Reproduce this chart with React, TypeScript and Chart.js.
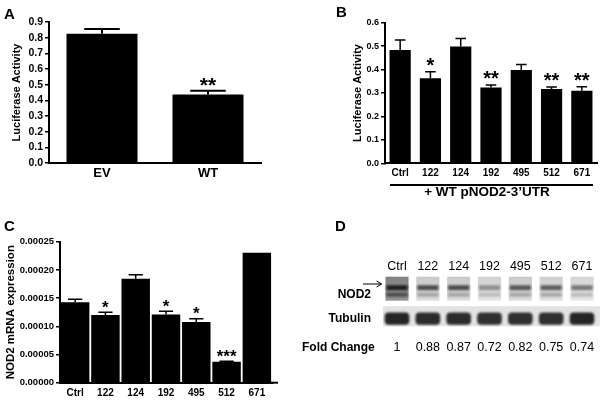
import React, { useEffect, useRef } from "react";
import { Chart, registerables } from "chart.js";
Chart.register(...registerables);

const FONT = "'Liberation Sans', Arial, Helvetica, sans-serif";

// ---- Panel A data ----
const catA = ["EV", "WT"];
const valA = [0.825, 0.438];
const semA = [0.03, 0.023];
const starA = ["", "**"];

// ---- Panel B data ----
const catB = ["Ctrl", "122", "124", "192", "495", "512", "671"];
const valB = [0.483, 0.363, 0.498, 0.323, 0.398, 0.317, 0.31];
const semB = [0.043, 0.028, 0.035, 0.011, 0.024, 0.009, 0.017];
const starB = ["", "*", "", "**", "", "**", "**"];

// ---- Panel C data ----
const catC = ["Ctrl", "122", "124", "192", "495", "512", "671"];
const valC = [0.0001425, 0.00012, 0.0001845, 0.000121, 0.0001075, 0.0000372, 0.0002305];
const semC = [0.0000055, 0.000005, 0.000007, 0.0000055, 0.000006, 0.0000008, 0];
const starC = ["", "*", "", "*", "*", "***", ""];

// ---- Panel D data ----
const laneD = ["Ctrl", "122", "124", "192", "495", "512", "671"];
const foldD = [1, 0.88, 0.87, 0.72, 0.82, 0.75, 0.74];
const nodBackD = [0.45, 0.17, 0.17, 0.14, 0.17, 0.15, 0.13];
const nodUpperD = [1.0, 0.8, 0.8, 0.5, 0.75, 0.72, 0.6];
const nodLowerD = [0.8, 0.4, 0.4, 0.3, 0.4, 0.4, 0.3];
const tubD = [0.95, 0.92, 0.92, 0.9, 0.9, 0.9, 0.95];

type Area = { left: number; top: number; right: number; bottom: number };
type BarPanel = {
  letter: string; letterX: number; letterY: number;
  cats: string[]; vals: number[]; sem: number[]; stars: string[];
  yMax: number; yStep: number; decimals: number;
  title: string; titleSize: number; titlePad: number; titleAlign: "center" | "start";
  area: Area; w: number; h: number;
  tickSize: number; xSize: number; xPad: number; barPct: number;
  starSize: number; starGap: number; errW: number;
  extra?: (chart: any) => void;
};

function shade(v: number) {
  const g = Math.round(255 * (1 - v));
  return `rgb(${g},${g},${g})`;
}

function makeBarChart(canvas: HTMLCanvasElement, p: BarPanel) {
  const plugin = {
    id: "extras" + p.letter,
    afterDatasetsDraw(chart: any) {
      const ctx = chart.ctx;
      const y = chart.scales.y;
      const meta = chart.getDatasetMeta(0);
      ctx.save();
      ctx.fillStyle = "#000";
      ctx.strokeStyle = "#000";
      meta.data.forEach((el: any, i: number) => {
        const v = p.vals[i];
        const base = y.getPixelForValue(v);
        const top = y.getPixelForValue(v + p.sem[i]);
        const w = el.width;
        if (p.sem[i] > 0) {
          ctx.lineWidth = p.errW;
          ctx.beginPath();
          ctx.moveTo(el.x, base);
          ctx.lineTo(el.x, top);
          ctx.moveTo(el.x - w / 4, top);
          ctx.lineTo(el.x + w / 4, top);
          ctx.stroke();
        }
        if (p.stars[i]) {
          ctx.font = `bold ${p.starSize}px ${FONT}`;
          ctx.textAlign = "center";
          ctx.textBaseline = "alphabetic";
          ctx.fillText(p.stars[i], el.x, top - p.starGap + p.starSize * 0.56);
        }
      });
      ctx.font = `bold 15px ${FONT}`;
      ctx.textAlign = "left";
      ctx.textBaseline = "alphabetic";
      ctx.fillText(p.letter, p.letterX, p.letterY);
      if (p.extra) p.extra(chart);
      ctx.restore();
    },
  };
  return new Chart(canvas, {
    type: "bar",
    data: {
      labels: p.cats,
      datasets: [
        {
          data: p.vals,
          backgroundColor: "#000",
          borderWidth: 0,
          barPercentage: p.barPct,
          categoryPercentage: 1,
        },
      ],
    },
    options: {
      animation: false,
      responsive: false,
      maintainAspectRatio: false,
      devicePixelRatio: 1,
      layout: { padding: { left: 0, top: p.area.top, right: p.w - p.area.right, bottom: 0 } },
      plugins: { legend: { display: false }, tooltip: { enabled: false }, title: { display: false } },
      scales: {
        x: {
          type: "category",
          offset: true,
          grid: { display: false, drawTicks: false },
          border: { display: true, color: "#000", width: 2 },
          ticks: {
            color: "#000",
            font: { family: FONT, size: p.xSize, weight: "bold" },
            padding: p.xPad,
            maxRotation: 0,
            autoSkip: false,
          },
          afterFit: (s: any) => {
            s.height = p.h - p.area.bottom;
          },
        },
        y: {
          min: 0,
          max: p.yMax,
          grid: { display: true, drawOnChartArea: false, drawTicks: true, tickLength: 4, color: "#000", lineWidth: 1.5 },
          border: { display: true, color: "#000", width: 2 },
          ticks: {
            stepSize: p.yStep,
            color: "#000",
            font: { family: FONT, size: p.tickSize, weight: "bold" },
            padding: 2,
            autoSkip: false,
            callback: (v: any) => Number(v).toFixed(p.decimals),
          },
          title: {
            display: true,
            text: p.title,
            color: "#000",
            align: p.titleAlign,
            font: { family: FONT, size: p.titleSize, weight: "bold" },
            padding: { top: p.titlePad, bottom: 0 },
          },
          afterFit: (s: any) => {
            s.width = p.area.left;
          },
        },
      },
    },
    plugins: [plugin],
  } as any);
}

function makeBlotChart(canvas: HTMLCanvasElement) {
  const plugin = {
    id: "blot",
    afterDraw(chart: any) {
      const { ctx, chartArea: a, scales } = chart;
      const x = scales.x;
      const step = x.getPixelForValue(1) - x.getPixelForValue(0);
      const laneW = step * 0.75;
      const t0 = a.top;
      ctx.save();
      // NOD2 lanes
      laneD.forEach((_l: string, i: number) => {
        const cx = x.getPixelForValue(i);
        const l = cx - laneW / 2;
        ctx.filter = "none";
        const bg = ctx.createLinearGradient(0, t0, 0, t0 + 24);
        bg.addColorStop(0, shade(nodBackD[i] + 0.04));
        bg.addColorStop(1, shade(nodBackD[i] - 0.04));
        ctx.fillStyle = bg;
        ctx.fillRect(l, t0, laneW, 24);
        ctx.filter = "blur(0.8px)";
        ctx.fillStyle = shade(0.88 * nodUpperD[i]);
        ctx.fillRect(l + 1, t0 + 8.5, laneW - 2, 5);
        ctx.fillStyle = shade(0.88 * nodLowerD[i]);
        ctx.fillRect(l + 1, t0 + 16, laneW - 2, 4);
      });
      // Tubulin strip
      ctx.filter = "none";
      ctx.fillStyle = "#e3e3e3";
      ctx.fillRect(a.left + 1.5, t0 + 29.5, a.right - a.left + 1, 20);
      ctx.filter = "blur(0.9px)";
      laneD.forEach((_l: string, i: number) => {
        const cx = x.getPixelForValue(i);
        const bw = step * 0.8;
        ctx.fillStyle = shade(0.9 * tubD[i]);
        ctx.beginPath();
        (ctx as any).roundRect(cx - bw / 2, t0 + 35.8, bw, 12.2, 4);
        ctx.fill();
      });
      ctx.filter = "none";
      // labels
      ctx.fillStyle = "#000";
      ctx.textBaseline = "middle";
      ctx.font = `bold 12px ${FONT}`;
      ctx.textAlign = "right";
      ctx.fillText("NOD2", 71, t0 + 18.3);
      ctx.fillText("Tubulin", 71, t0 + 41.6);
      ctx.textAlign = "left";
      ctx.fillText("Fold Change", 2, t0 + 70.6);
      ctx.font = `12.5px ${FONT}`;
      ctx.textAlign = "center";
      foldD.forEach((f: number, i: number) => {
        const cx = x.getPixelForValue(i);
        ctx.fillText(f === 1 ? "1" : f.toFixed(2), cx, t0 + 70.6);
      });
      // arrow
      ctx.strokeStyle = "#000";
      ctx.lineWidth = 1;
      ctx.beginPath();
      ctx.moveTo(63, t0 + 7.3);
      ctx.lineTo(a.left, t0 + 7.3);
      ctx.moveTo(a.left - 5, t0 + 4.3);
      ctx.lineTo(a.left, t0 + 7.3);
      ctx.lineTo(a.left - 5, t0 + 10.3);
      ctx.stroke();
      // letter
      ctx.font = `bold 15px ${FONT}`;
      ctx.textAlign = "left";
      ctx.textBaseline = "alphabetic";
      ctx.fillText("D", 35, 30.7);
      ctx.restore();
    },
  };
  return new Chart(canvas, {
    type: "bar",
    data: { labels: laneD, datasets: [] },
    options: {
      animation: false,
      responsive: false,
      maintainAspectRatio: false,
      devicePixelRatio: 1,
      layout: { padding: { left: 81.6, top: 56.7, right: 6.6, bottom: 30 } },
      plugins: { legend: { display: false }, tooltip: { enabled: false } },
      scales: {
        x: {
          type: "category",
          position: "top",
          offset: true,
          grid: { display: false, drawTicks: false },
          border: { display: false },
          ticks: { color: "#000", font: { family: FONT, size: 12.5 }, padding: 2.5, maxRotation: 0, autoSkip: false },
          afterFit: (s: any) => {
            s.height = 20;
          },
        },
        y: { display: false, min: 0, max: 1 },
      },
    },
    plugins: [plugin],
  } as any);
}

export default function App() {
  const refA = useRef<HTMLCanvasElement>(null);
  const refB = useRef<HTMLCanvasElement>(null);
  const refC = useRef<HTMLCanvasElement>(null);
  const refD = useRef<HTMLCanvasElement>(null);

  useEffect(() => {
    Chart.defaults.font.family = FONT;
    const charts: Chart[] = [];
    charts.push(
      makeBarChart(refA.current!, {
        letter: "A", letterX: 4, letterY: 18.5,
        cats: catA, vals: valA, sem: semA, stars: starA,
        yMax: 0.9, yStep: 0.1, decimals: 1,
        title: "Luciferase Activity", titleSize: 11, titlePad: 10.2, titleAlign: "center",
        area: { left: 49, top: 22, right: 261, bottom: 163 }, w: 300, h: 200,
        tickSize: 10.5, xSize: 13, xPad: 2.2, barPct: 0.67,
        starSize: 21, starGap: 10.5, errW: 2,
      })
    );
    charts.push(
      makeBarChart(refB.current!, {
        letter: "B", letterX: 36, letterY: 16.8,
        cats: catB, vals: valB, sem: semB, stars: starB,
        yMax: 0.6, yStep: 0.1, decimals: 1,
        title: "Luciferase Activity", titleSize: 11, titlePad: 51.5, titleAlign: "center",
        area: { left: 85, top: 22.7, right: 297, bottom: 163.3 }, w: 304, h: 201,
        tickSize: 9, xSize: 10, xPad: 3.7, barPct: 0.7,
        starSize: 20, starGap: 11, errW: 1.5,
        extra: (chart: any) => {
          const { ctx, chartArea: a } = chart;
          ctx.strokeStyle = "#000";
          ctx.lineWidth = 2;
          ctx.beginPath();
          ctx.moveTo(a.left + 5, 185);
          ctx.lineTo(a.right - 4, 185);
          ctx.stroke();
          ctx.fillStyle = "#000";
          ctx.font = `bold 13.5px ${FONT}`;
          ctx.textAlign = "center";
          ctx.textBaseline = "middle";
          ctx.fillText("+ WT pNOD2-3\u2019UTR", (a.left + a.right) / 2 - 4, 192.5);
        },
      })
    );
    charts.push(
      makeBarChart(refC.current!, {
        letter: "C", letterX: 4, letterY: 30.5,
        cats: catC, vals: valC, sem: semC, stars: starC,
        yMax: 0.00025, yStep: 0.00005, decimals: 5,
        title: "NOD2 mRNA expression", titleSize: 11.5, titlePad: 4, titleAlign: "center",
        area: { left: 60, top: 41.7, right: 272, bottom: 182.7 }, w: 300, h: 201,
        tickSize: 9.5, xSize: 10, xPad: 4.3, barPct: 0.94,
        starSize: 17, starGap: 9, errW: 1.5,
        extra: (chart: any) => {
          const { ctx, chartArea: a } = chart;
          ctx.strokeStyle = "#000";
          ctx.lineWidth = 2;
          ctx.beginPath();
          ctx.moveTo(a.right - 1, a.bottom);
          ctx.lineTo(a.right + 6, a.bottom);
          ctx.stroke();
        },
      })
    );
    charts.push(makeBlotChart(refD.current!));
    return () => charts.forEach((c) => c.destroy());
  }, []);

  const cs = (l: number, t: number, w: number, h: number): React.CSSProperties => ({
    position: "absolute", left: l, top: t, width: w, height: h,
  });

  return (
    <div style={{ position: "absolute", left: 0, top: 0, width: 604, height: 401, background: "#fff", overflow: "hidden" }}>
      <canvas ref={refA} width={300} height={200} style={cs(0, 0, 300, 200)} />
      <canvas ref={refB} width={304} height={201} style={cs(300, 0, 304, 201)} />
      <canvas ref={refC} width={300} height={201} style={cs(0, 200, 300, 201)} />
      <canvas ref={refD} width={304} height={201} style={cs(300, 200, 304, 201)} />
    </div>
  );
}
